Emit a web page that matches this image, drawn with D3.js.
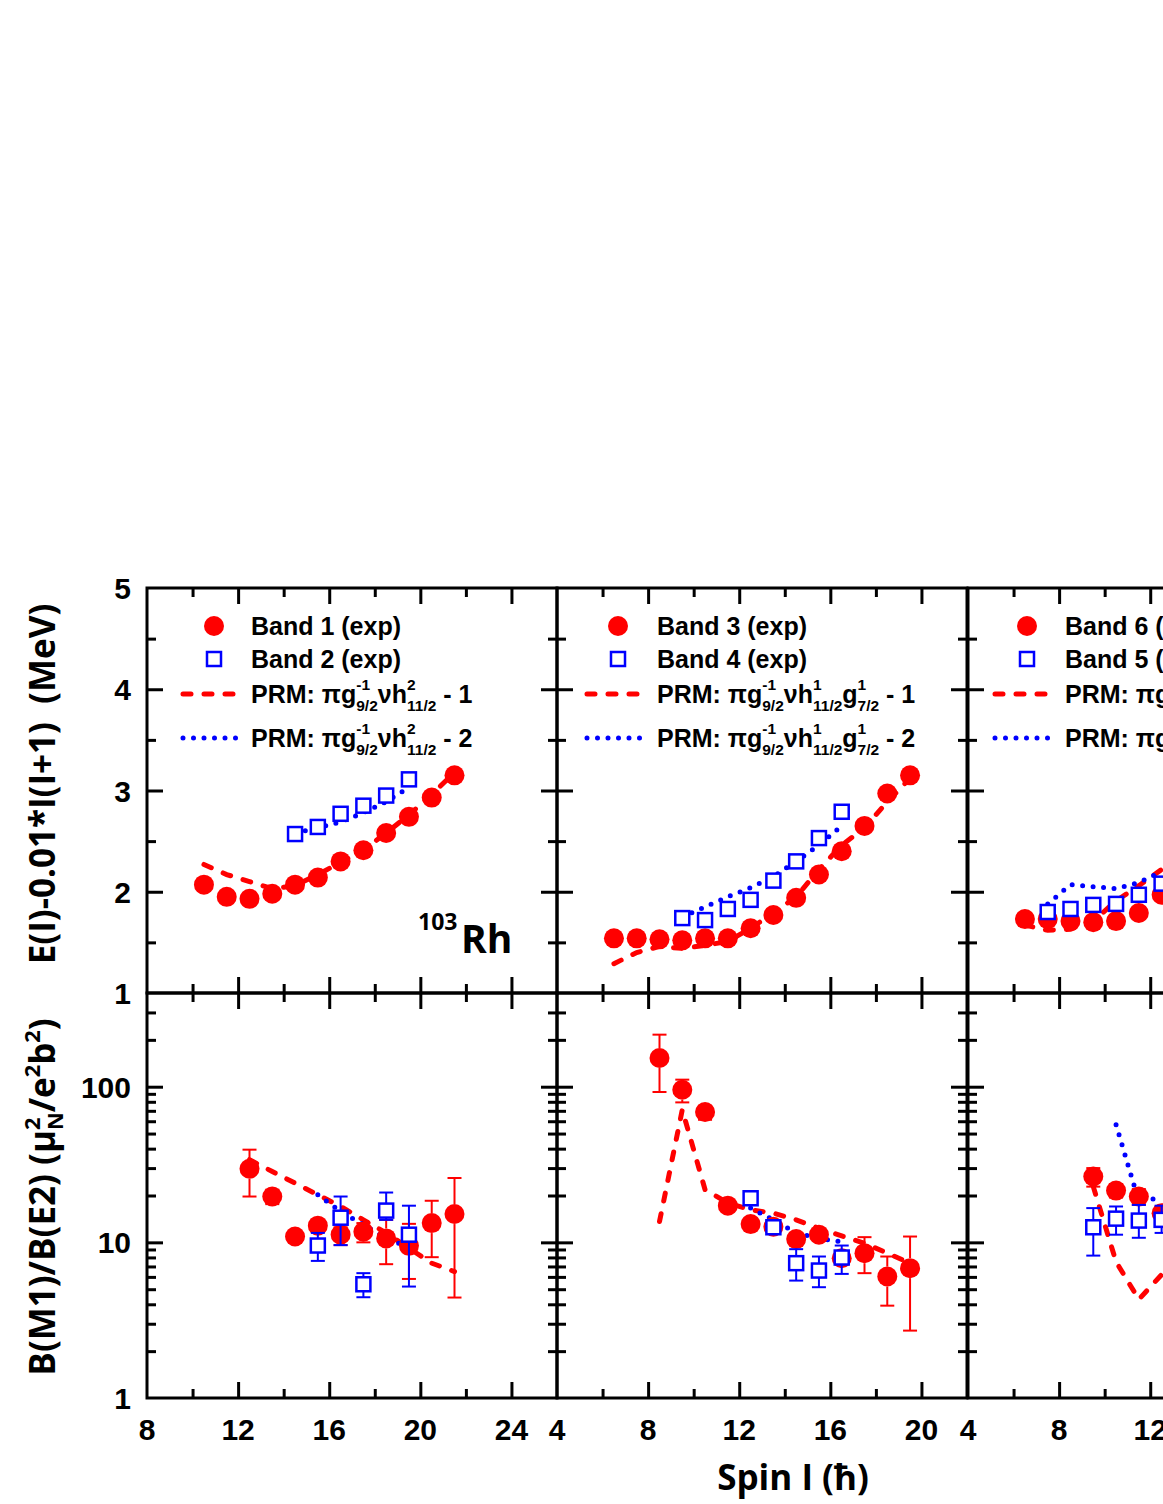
<!DOCTYPE html>
<html><head><meta charset="utf-8">
<script src="https://cdn.jsdelivr.net/npm/d3@7"></script>
<style>body{margin:0;background:#fff;} svg{display:block;}</style>
</head><body>
<svg id="chart" width="1163" height="1504"></svg>
<script>
// ---------------- DATA ----------------
// Panel 1 (Bands 1 & 2) : E(I)-0.01*I(I+1)
const p1EBand1Spin = [10.5, 11.5, 12.5, 13.5, 14.5, 15.5, 16.5, 17.5, 18.5, 19.5, 20.5, 21.5];
const p1EBand1     = [2.07, 1.95, 1.93, 1.98, 2.07, 2.14, 2.30, 2.41, 2.58, 2.74, 2.93, 3.15];
const p1EBand2Spin = [14.5, 15.5, 16.5, 17.5, 18.5, 19.5];
const p1EBand2     = [2.57, 2.64, 2.77, 2.85, 2.95, 3.11];
const p1EPrm1Spin  = [10.5, 11.5, 12.5, 13.5, 14.5, 15.5, 16.5, 17.5, 18.5, 19.5, 20.5, 21.5];
const p1EPrm1      = [2.27, 2.17, 2.10, 2.03, 2.06, 2.17, 2.29, 2.41, 2.58, 2.76, 2.96, 3.18];
const p1EPrm2Spin  = [14.5, 15.5, 16.5, 17.5, 18.5, 19.5];
const p1EPrm2      = [2.58, 2.63, 2.69, 2.78, 2.89, 3.03];
// Panel 1 : B(M1)/B(E2)
const p1BBand1Spin = [12.5, 13.5, 14.5, 15.5, 16.5, 17.5, 18.5, 19.5, 20.5, 21.5];
const p1BBand1     = [29.7, 19.7, 10.9, 12.8, 11.2, 11.7, 10.6, 9.5, 13.3, 15.2];
const p1BBand1Lo   = [19.7, 17.6, 10.2, 11.9, 9.6, 10.0, 7.24, 5.82, 8.03, 4.42];
const p1BBand1Hi   = [39.4, 21.8, 11.6, 13.7, 12.5, 13.3, 13.95, 13.15, 18.5, 25.9];
const p1BBand2Spin = [15.5, 16.5, 17.5, 18.5, 19.5];
const p1BBand2     = [9.54, 14.4, 5.38, 16.0, 11.2];
const p1BBand2Lo   = [7.6, 9.6, 4.44, 13.95, 5.2];
const p1BBand2Hi   = [11.5, 19.7, 6.34, 20.9, 17.2];
const p1BPrm1Spin  = [12.5, 13.5, 14.5, 15.5, 16.5, 17.5, 18.5, 19.5, 20.5, 21.5];
const p1BPrm1      = [34.0, 28.5, 24.0, 20.2, 17.0, 13.95, 11.5, 9.17, 7.35, 6.49];
const p1BPrm2Spin  = [15.5, 16.5, 17.5, 18.5, 19.5];
const p1BPrm2      = [20.2, 15.8, 12.96, 10.6, 9.31];

// Panel 2 (Bands 3 & 4)
const p2EBand3Spin = [6.5, 7.5, 8.5, 9.5, 10.5, 11.5, 12.5, 13.5, 14.5, 15.5, 16.5, 17.5, 18.5, 19.5];
const p2EBand3     = [1.54, 1.54, 1.53, 1.52, 1.54, 1.54, 1.64, 1.77, 1.94, 2.17, 2.40, 2.65, 2.97, 3.15];
const p2EBand4Spin = [9.5, 10.5, 11.5, 12.5, 13.5, 14.5, 15.5, 16.5];
const p2EBand4     = [1.74, 1.72, 1.83, 1.92, 2.11, 2.30, 2.53, 2.79];
const p2EPrm1Spin  = [6.5, 7.5, 8.5, 9.5, 10.5, 11.5, 12.5, 13.5, 14.5, 15.5, 16.5, 17.5, 18.5, 19.5];
const p2EPrm1      = [1.29, 1.40, 1.46, 1.44, 1.47, 1.51, 1.64, 1.79, 1.95, 2.22, 2.46, 2.63, 2.89, 3.12];
const p2EPrm2Spin  = [9.5, 10.5, 11.5, 12.5, 13.5, 14.5, 15.5, 16.5];
const p2EPrm2      = [1.75, 1.85, 1.95, 2.04, 2.15, 2.30, 2.46, 2.65];
const p2BBand3Spin = [8.5, 9.5, 10.5, 11.5, 12.5, 13.5, 14.5, 15.5, 16.5, 17.5, 18.5, 19.5];
const p2BBand3     = [152.9, 95.6, 68.8, 17.2, 13.1, 12.6, 10.5, 11.2, 7.91, 8.52, 6.03, 6.83];
const p2BBand3Lo   = [92.5, 79.3, 61.3, 16.0, 12.3, 11.8, 9.9, 10.5, 7.4, 6.34, 3.92, 2.71];
const p2BBand3Hi   = [216, 111, 75.5, 18.5, 13.9, 13.4, 11.1, 11.9, 8.4, 10.8, 8.11, 10.9];
const p2BBand4Spin = [12.5, 13.5, 14.5, 15.5, 16.5];
const p2BBand4     = [19.2, 12.5, 7.35, 6.59, 7.99];
const p2BBand4Lo   = [17.8, 11.8, 5.68, 5.15, 6.27];
const p2BBand4Hi   = [21.2, 13.3, 9.04, 8.11, 9.54];
const p2BPrm1Spin  = [8.5, 9.5, 10.5, 11.5, 12.5, 13.5, 14.5, 15.5, 16.5, 17.5, 18.5, 19.5];
const p2BPrm1      = [13.6, 71.1, 21.8, 17.9, 16.2, 15.4, 13.95, 12.3, 11.0, 9.88, 8.52, 7.35];
const p2BPrm2Spin  = [12.5, 13.5, 14.5, 15.5, 16.5];
const p2BPrm2      = [16.6, 13.95, 11.5, 10.6, 10.1];

// Panel 3 (Bands 6 & 5) - only the visible part
const p3EBand6Spin = [6.5, 7.5, 8.5, 9.5, 10.5, 11.5, 12.5];
const p3EBand6     = [1.73, 1.73, 1.71, 1.70, 1.71, 1.79, 1.97];
const p3EBand5Spin = [7.5, 8.5, 9.5, 10.5, 11.5, 12.5];
const p3EBand5     = [1.80, 1.83, 1.87, 1.88, 1.97, 2.08];
const p3EPrm1Spin  = [6.5, 7.5, 8.5, 9.5, 10.5, 11.5, 12.5];
const p3EPrm1      = [1.67, 1.62, 1.63, 1.71, 1.91, 2.06, 2.22];
const p3EPrm2Spin  = [7.5, 8.5, 9.5, 10.5, 11.5, 12.5];
const p3EPrm2      = [1.88, 2.07, 2.05, 2.03, 2.09, 2.20];
const p3BBand6Spin = [9.5, 10.5, 11.5, 12.5];
const p3BBand6     = [26.5, 21.5, 19.7, 15.4];
const p3BBand6Lo   = [22.8, 19.4, 17.4, 14.0];
const p3BBand6Hi   = [30.0, 23.7, 22.0, 17.0];
const p3BBand5Spin = [9.5, 10.5, 11.5, 12.5];
const p3BBand5     = [12.5, 14.2, 13.8, 13.95];
const p3BBand5Lo   = [8.22, 11.2, 10.7, 11.5];
const p3BBand5Hi   = [16.6, 17.0, 17.4, 17.2];
const p3BPrm1Spin  = [9.5, 10.5, 11.5, 12.5];
const p3BPrm1      = [22.8, 7.5, 4.3, 6.2];
const p3BPrm2Spin  = [10.5, 11.5, 12.5];
const p3BPrm2      = [57.0, 18.3, 19.4];

// Axis tick labels
const xDomains = [[8, 26], [4, 22], [4, 22]];
const xTickLabels = [[8, 12, 16, 20, 24], [4, 8, 12, 16, 20], [4, 8, 12, 16, 20]];
const yETickLabels = [1, 2, 3, 4, 5];
const yBTickLabels = [1, 10, 100];

// Legend texts
const legendCircle = ["Band 1 (exp)", "Band 3 (exp)", "Band 6 (exp)"];
const legendSquare = ["Band 2 (exp)", "Band 4 (exp)", "Band 5 (exp)"];
const legendPrm = [
  [{t:"PRM: \u03c0g"},{sup:"-1",sub:"9/2"},{t:"\u03bdh"},{sup:"2",sub:"11/2"}],
  [{t:"PRM: \u03c0g"},{sup:"-1",sub:"9/2"},{t:"\u03bdh"},{sup:"1",sub:"11/2"},{t:"g"},{sup:"1",sub:"7/2"}],
  [{t:"PRM: \u03c0g"},{sup:"-1",sub:"9/2"},{t:"\u03bdh"},{sup:"1",sub:"11/2"},{t:"g"},{sup:"1",sub:"7/2"}]
];

// ---------------- LAYOUT ----------------
const RED = "#ff0000", BLUE = "#0000ff";
const L = [147, 557, 968], W = 410;
const T0 = 588, T1 = 993, T2 = 1398;
const legOff = [{c: 67, t: 104, l0: 36, l1: 93}, {c: 61, t: 100, l0: 30, l1: 93}, {c: 59, t: 97, l0: 27, l1: 90}];
const ARIAL = "'Liberation Sans', Arial, sans-serif";
const OPEN = "'Open Sans', 'Noto Sans', sans-serif";

const svg = d3.select("#chart");
svg.append("rect").attr("width", 1163).attr("height", 1504).attr("fill", "#fff");

const yE = d3.scaleLinear().domain([1, 5]).range([T1, T0]);
const yB = d3.scaleLog().domain([1, 400]).range([T2, T1]);

const zip = (a, b) => a.map((v, i) => [v, b[i]]);

const panels = [
  {E: {c: zip(p1EBand1Spin, p1EBand1), s: zip(p1EBand2Spin, p1EBand2), d: zip(p1EPrm1Spin, p1EPrm1), o: zip(p1EPrm2Spin, p1EPrm2)},
   B: {c: zip(p1BBand1Spin, p1BBand1), cLo: p1BBand1Lo, cHi: p1BBand1Hi, s: zip(p1BBand2Spin, p1BBand2), sLo: p1BBand2Lo, sHi: p1BBand2Hi,
       d: zip(p1BPrm1Spin, p1BPrm1), o: zip(p1BPrm2Spin, p1BPrm2)}},
  {E: {c: zip(p2EBand3Spin, p2EBand3), s: zip(p2EBand4Spin, p2EBand4), d: zip(p2EPrm1Spin, p2EPrm1), o: zip(p2EPrm2Spin, p2EPrm2)},
   B: {c: zip(p2BBand3Spin, p2BBand3), cLo: p2BBand3Lo, cHi: p2BBand3Hi, s: zip(p2BBand4Spin, p2BBand4), sLo: p2BBand4Lo, sHi: p2BBand4Hi,
       d: zip(p2BPrm1Spin, p2BPrm1), o: zip(p2BPrm2Spin, p2BPrm2)}},
  {E: {c: zip(p3EBand6Spin, p3EBand6), s: zip(p3EBand5Spin, p3EBand5), d: zip(p3EPrm1Spin, p3EPrm1), o: zip(p3EPrm2Spin, p3EPrm2)},
   B: {c: zip(p3BBand6Spin, p3BBand6), cLo: p3BBand6Lo, cHi: p3BBand6Hi, s: zip(p3BBand5Spin, p3BBand5), sLo: p3BBand5Lo, sHi: p3BBand5Hi,
       d: zip(p3BPrm1Spin, p3BPrm1), o: zip(p3BPrm2Spin, p3BPrm2)}}
];

function tickAxis(g, orient, scale, pos, values, len) {
  const fn = {bottom: d3.axisBottom, top: d3.axisTop, left: d3.axisLeft, right: d3.axisRight}[orient];
  const a = g.append("g")
    .attr("transform", (orient === "bottom" || orient === "top") ? `translate(0,${pos})` : `translate(${pos},0)`)
    .call(fn(scale).tickValues(values).tickSizeInner(-len).tickSizeOuter(0).tickFormat(""));
  a.select(".domain").remove();
  a.selectAll("line").attr("stroke", "#000").attr("stroke-width", 3);
}

const dashStyle = s => s.attr("stroke", RED).attr("stroke-width", 5).attr("stroke-linecap", "round").attr("stroke-dasharray", "8 13").attr("fill", "none");
const dotStyle = s => s.attr("stroke", BLUE).attr("stroke-width", 5).attr("stroke-linecap", "round").attr("stroke-dasharray", "0 10.5").attr("fill", "none");

function rich(g, x, y, parts, size, family, supK, subK, smallK) {
  let cx = x;
  parts.forEach(p => {
    if (p.t !== undefined) {
      const t = g.append("text").attr("x", cx).attr("y", y).attr("font-size", size).attr("font-family", family)
        .attr("font-weight", "bold").style("white-space", "pre").text(p.t);
      cx += t.node().getComputedTextLength();
    } else {
      let w = 0;
      if (p.sup) {
        const t = g.append("text").attr("x", cx).attr("y", y - size * supK).attr("font-size", size * smallK)
          .attr("font-family", family).attr("font-weight", "bold").text(p.sup);
        w = Math.max(w, t.node().getComputedTextLength());
      }
      if (p.sub) {
        const t = g.append("text").attr("x", cx).attr("y", y + size * subK).attr("font-size", size * smallK)
          .attr("font-family", family).attr("font-weight", "bold").text(p.sub);
        w = Math.max(w, t.node().getComputedTextLength());
      }
      cx += w;
    }
  });
  return cx - x;
}

panels.forEach((p, i) => {
  const x = d3.scaleLinear().domain(xDomains[i]).range([L[i], L[i] + W]);
  const g = svg.append("g");
  const [x0, x1] = xDomains[i];
  const allX = d3.range(x0 + 2, x1, 2);
  const majX = allX.filter(v => v % 4 === 0), minX = allX.filter(v => v % 4 !== 0);

  const line = (yS) => d3.line().x(d => x(d[0])).y(d => yS(d[1]));

  [[yE, p.E], [yB, p.B]].forEach(([yS, D]) => {
    g.append("path").datum(D.d).attr("d", line(yS)).call(dashStyle);
    g.append("path").datum(D.o).attr("d", line(yS)).call(dotStyle);
    const err = (pts, lo, hi, color, half) => {
      if (!lo) return;
      pts.forEach((pt, k) => {
        const cxp = x(pt[0]), yc = yS(pt[1]), yl = yS(lo[k]), yh = yS(hi[k]);
        if (yh < yc - half) g.append("line").attr("x1", cxp).attr("x2", cxp).attr("y1", yh).attr("y2", yc - half).attr("stroke", color).attr("stroke-width", 2);
        if (yl > yc + half) g.append("line").attr("x1", cxp).attr("x2", cxp).attr("y1", yc + half).attr("y2", yl).attr("stroke", color).attr("stroke-width", 2);
        [yh, yl].forEach(yy => g.append("line").attr("x1", cxp - 7).attr("x2", cxp + 7).attr("y1", yy).attr("y2", yy).attr("stroke", color).attr("stroke-width", 2));
      });
    };
    err(D.c, D.cLo, D.cHi, RED, 10);
    g.selectAll(null).data(D.c).join("circle").attr("cx", d => x(d[0])).attr("cy", d => yS(d[1])).attr("r", 10).attr("fill", RED);
    err(D.s, D.sLo, D.sHi, BLUE, 7);
    g.selectAll(null).data(D.s).join("rect").attr("x", d => x(d[0]) - 7).attr("y", d => yS(d[1]) - 7)
      .attr("width", 14).attr("height", 14).attr("fill", "#fff").attr("stroke", BLUE).attr("stroke-width", 2.5);
  });

  // ---- ticks ----
  const yEmaj = [2, 3, 4], yEmin = [1.5, 2.5, 3.5, 4.5];
  const yBmaj = [10, 100], yBmin = [2,3,4,5,6,7,8,9,20,30,40,50,60,70,80,90,200,300];
  [[T0, "top"], [T1, "bottom"], [T1, "top"], [T2, "bottom"]].forEach(([pos, o]) => {
    tickAxis(g, o, x, pos, majX, 16);
    tickAxis(g, o, x, pos, minX, 9);
  });
  [[L[i], "left"], [L[i] + W, "right"]].forEach(([pos, o]) => {
    tickAxis(g, o, yE, pos, yEmaj, 16);
    tickAxis(g, o, yE, pos, yEmin, 9);
    tickAxis(g, o, yB, pos, yBmaj, 16);
    tickAxis(g, o, yB, pos, yBmin, 9);
  });
  g.append("rect").attr("x", L[i]).attr("y", T0).attr("width", W).attr("height", T1 - T0).attr("fill", "none").attr("stroke", "#000").attr("stroke-width", 3);
  g.append("rect").attr("x", L[i]).attr("y", T1).attr("width", W).attr("height", T2 - T1).attr("fill", "none").attr("stroke", "#000").attr("stroke-width", 3);

  g.selectAll(null).data(xTickLabels[i]).join("text")
    .attr("x", d => x(d)).attr("y", T2 + 42).attr("text-anchor", "middle")
    .attr("font-family", ARIAL).attr("font-weight", "bold").attr("font-size", 30).text(d => d);

  // legend
  const o = legOff[i], lx = L[i];
  g.append("circle").attr("cx", lx + o.c).attr("cy", 626).attr("r", 10).attr("fill", RED);
  g.append("rect").attr("x", lx + o.c - 7).attr("y", 652).attr("width", 14).attr("height", 14).attr("fill", "#fff").attr("stroke", BLUE).attr("stroke-width", 2.5);
  g.append("path").datum([[lx + o.l0, 694], [lx + o.l1, 694]]).attr("d", d3.line()).call(dashStyle);
  g.append("path").datum([[lx + o.l0, 738], [lx + o.l1, 738]]).attr("d", d3.line()).call(dotStyle);
  g.append("text").attr("x", lx + o.t).attr("y", 635).attr("font-family", ARIAL).attr("font-weight", "bold").attr("font-size", 25).text(legendCircle[i]);
  g.append("text").attr("x", lx + o.t).attr("y", 668).attr("font-family", ARIAL).attr("font-weight", "bold").attr("font-size", 25).text(legendSquare[i]);
  rich(g, lx + o.t, 703, legendPrm[i].concat([{t: " - 1"}]), 25, ARIAL, 0.52, 0.3, 0.62);
  rich(g, lx + o.t, 747, legendPrm[i].concat([{t: " - 2"}]), 25, ARIAL, 0.52, 0.3, 0.62);
});

svg.selectAll(null).data(yETickLabels).join("text").attr("x", 131).attr("y", d => yE(d) + 11)
  .attr("text-anchor", "end").attr("font-family", ARIAL).attr("font-weight", "bold").attr("font-size", 30).text(d => d);
svg.selectAll(null).data(yBTickLabels).join("text").attr("x", 131).attr("y", d => yB(d) + 11)
  .attr("text-anchor", "end").attr("font-family", ARIAL).attr("font-weight", "bold").attr("font-size", 30).text(d => d);

svg.append("text").attr("x", 418).attr("y", 930).attr("font-family", OPEN).attr("font-weight", "bold").attr("font-size", 23).text("103");
svg.append("text").attr("x", 461).attr("y", 953).attr("font-family", OPEN).attr("font-weight", "bold").attr("font-size", 39).text("Rh");

svg.append("text").attr("x", 793).attr("y", 1490).attr("text-anchor", "middle").attr("font-family", OPEN)
  .attr("font-weight", "bold").attr("font-size", 35).text("Spin I (\u0127)");
svg.append("text").attr("transform", "translate(55,784) rotate(-90)").attr("text-anchor", "middle").attr("font-family", OPEN)
  .attr("font-weight", "bold").attr("font-size", 35).style("white-space", "pre").text("E(I)-0.01*I(I+1)  (MeV)");
const tg = svg.append("g").attr("transform", "translate(55,1197) rotate(-90)");
const tw = rich(tg, 0, 0, [{t: "B(M1)/B(E2) (\u03bc"}, {sup: "2", sub: "N"}, {t: "/e"}, {sup: "2"}, {t: "b"}, {sup: "2"}, {t: ")"}], 35, OPEN, 0.42, 0.22, 0.62);
tg.selectAll("text").attr("x", function () { return +this.getAttribute("x") - tw / 2; });
</script>
</body></html>
